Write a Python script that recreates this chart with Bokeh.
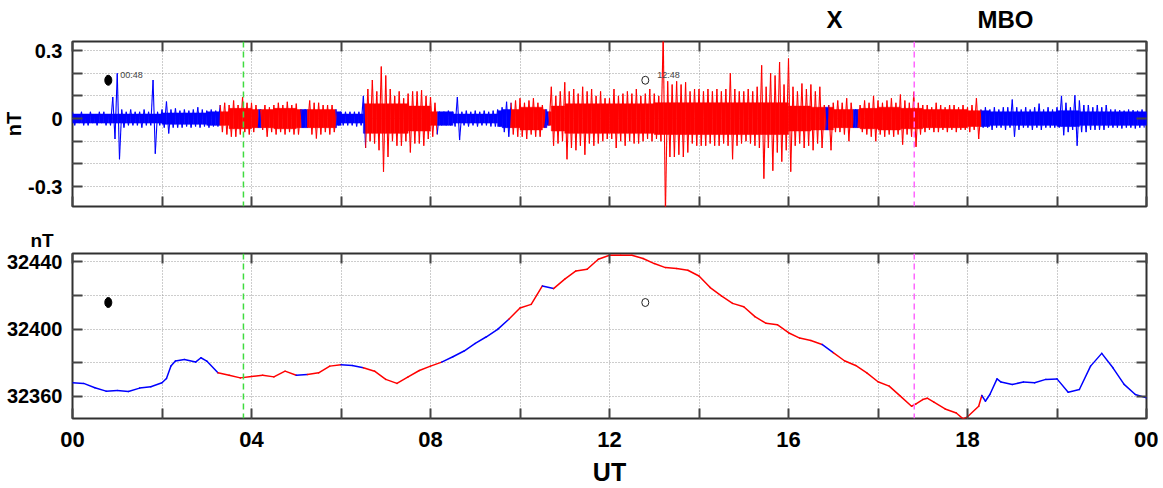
import numpy as np
from bokeh.plotting import figure
from bokeh.models import Range1d, FixedTicker, LinearAxis, Span, Label, ColumnDataSource
from bokeh.layouts import column
from bokeh.embed import file_html
from bokeh.resources import INLINE

# ---------------- data ----------------
# x axis (UT hours) labelled ticks, as printed on the original
xtick_pos = [0, 4, 8, 12, 16, 20, 24]
xtick_labels = ["00", "04", "08", "12", "16", "18", "00"]
xtick_minor = [2, 6, 10, 14, 18, 22]

# classification of time intervals (hours) : blue = quiet, red = active
seg_edges = [0, 3.30, 4.16, 4.22, 5.12, 5.25, 5.88, 6.53, 8.16, 9.79, 10.57, 10.64,
             16.83, 16.90, 17.45, 17.56, 20.31, 24]
seg_kind = ["quiet", "active", "quiet", "active", "quiet", "active", "quiet", "active",
            "quiet", "active", "quiet", "active", "quiet", "active", "quiet", "active", "quiet"]

# filtered field: upper / lower excursion per 0.1 h bin, in 0.01 nT (one row per hour)
hf_hi = [
    [3, 2, 3, 2, 3, 2, 3, 3, 2, 9.5],
    [20, 4, 3, 4, 3, 3, 4, 3, 17, 3],
    [4, 7.5, 4, 4.5, 3.5, 4, 3.5, 4, 5, 4],
    [3.5, 4, 3.5, 6, 7, 6, 8, 6, 9.5, 7],
    [7, 6, 4, 6, 5, 6, 7, 6, 7.4, 6],
    [6.6, 4, 4, 8, 7, 7, 6, 6, 6, 3],
    [3, 3, 3, 3, 3, 10, 13, 17, 12, 23],
    [19, 13, 10, 12, 9, 11, 12, 12, 12.5, 10],
    [9.5, 7, 3, 3, 3.5, 3, 9.5, 3, 3.5, 3],
    [3.5, 3, 3.5, 3, 3.5, 4, 5, 7.4, 7, 8],
    [9, 7, 8, 9, 7, 6, 3, 14, 10, 12],
    [16, 12, 13, 11, 14, 12, 13, 10, 12, 9],
    [9, 13, 10, 11, 12, 11, 13, 10, 11, 13],
    [11, 10, 38, 16.5, 15, 16.5, 15, 16, 12, 13],
    [13, 12, 13, 12, 13, 12, 13, 20, 13, 12],
    [12, 13, 12, 14, 23.5, 14, 20, 19, 25, 15],
    [26.5, 14, 12, 15.5, 13, 15, 12, 14, 6, 6],
    [7, 8, 7, 9, 7, 4, 6, 8, 7, 10],
    [8, 7, 8, 9, 7, 10.6, 8, 7, 11.8, 7],
    [6, 6, 5, 7, 6, 5, 6, 6, 5, 6],
    [5, 6, 9, 4, 5, 4, 5, 4, 5, 5],
    [8.4, 5, 4, 5, 4, 5, 6.6, 4, 5, 4],
    [5, 10, 7, 5, 10.3, 8, 6, 6, 5, 6],
    [5, 6, 4, 4, 3.7, 3.5, 4, 3.7, 3.5, 4],
]
hf_lo = [
    [-3, -2, -3, -3, -2, -3, -2, -3, -3, -9],
    [-18, -4, -3, -3, -3, -4, -3, -3, -15.5, -3],
    [-4, -6.6, -4, -4, -4, -3.5, -4, -3.5, -4, -3.5],
    [-4, -3.5, -3.5, -6, -7, -8, -8, -7, -6, -7],
    [-6, -4, -5, -8, -6, -7, -6, -7, -6, -7],
    [-7, -4, -4, -7, -8.8, -7, -6, -7, -6, -3],
    [-3, -3, -3, -3.5, -3, -13, -10, -11, -14, -23.5],
    [-17, -10, -12, -12, -10, -15, -11, -11, -12, -9],
    [-8, -7, -3, -3, -3, -3.5, -9.5, -3, -3.5, -3],
    [-3.5, -3, -3, -3.5, -3.5, -3.5, -6, -8, -7, -8],
    [-8, -9, -7, -8, -8, -4, -3, -12, -11, -10],
    [-18, -13, -14, -12, -16, -11, -12, -11, -10, -9],
    [-9, -13, -10, -12, -10, -11, -11, -10, -9, -10],
    [-9, -10, -42, -17, -17, -16, -17, -15, -11, -12],
    [-12, -12, -11, -12, -12, -11, -12, -18, -12, -11],
    [-10, -11, -12, -13, -26.5, -13, -23, -15, -19, -14],
    [-23.5, -12, -11, -13, -12, -14, -11, -13, -5, -14],
    [-6, -6, -7, -10, -4, -4, -6, -7, -8, -10],
    [-7, -8, -7, -8, -7, -11.5, -7, -8, -12.5, -7],
    [-6, -5, -6, -6, -5, -6, -5, -6, -5, -5],
    [-6, -5, -9, -4, -4, -5, -4, -4, -5, -4],
    [-8, -5, -4, -4, -5, -4, -5, -4, -4, -4],
    [-4, -7.4, -6, -5, -12, -6, -6, -5, -5, -5],
    [-5, -4, -4, -4, -4.4, -4, -4, -4.4, -4, -4],
]
# dense (solid-looking) core half-width of the filtered field per half hour, 0.01 nT
hf_core = [2, 2, 2, 2, 2.5, 2.5, 3, 4.5, 4, 4.5, 4, 4, 2, 6.5, 6.5, 5.5, 3, 2, 2, 4, 5, 5.5,
           6.5, 6.5, 6.5, 6.5, 7, 7, 7, 7, 7, 7, 5.5, 5, 4, 4.5, 5, 4.5, 4, 4, 3.5, 3, 3, 3,
           3.5, 3, 3, 3]

# total field (nT)
mf_t = [0, 0.25, 0.5, 0.75, 1.0, 1.25, 1.5, 1.75, 2.0, 2.1, 2.2, 2.3, 2.5, 2.75, 2.87, 3.0,
        3.25, 3.5, 3.75, 4.0, 4.25, 4.5, 4.75, 5.0, 5.25, 5.5, 5.75, 6.0, 6.25, 6.5, 6.75,
        7.0, 7.25, 7.5, 7.75, 8.0, 8.25, 8.5, 8.75, 9.0, 9.25, 9.5, 9.75, 10.0, 10.25,
        10.5, 10.75, 11.0, 11.25, 11.5, 11.75, 12.0, 12.25, 12.5, 12.75, 13.0, 13.25,
        13.5, 13.75, 14.0, 14.25, 14.5, 14.75, 15.0, 15.25, 15.5, 15.75, 16.0, 16.25,
        16.5, 16.75, 17.0, 17.25, 17.5, 17.75, 18.0, 18.25, 18.5, 18.75, 18.85, 19.0,
        19.1, 19.25, 19.5, 19.75, 19.9, 20.0, 20.25, 20.32, 20.4, 20.5, 20.66, 20.75,
        21.0, 21.25, 21.5, 21.75, 22.0, 22.25, 22.5, 22.75, 23.0, 23.25, 23.5, 23.75, 24.0]
mf_v = [32368.0, 32367.6, 32365.0, 32363.0, 32363.4, 32362.8, 32364.8, 32365.6, 32368.0,
        32370.5, 32378.0, 32381.0, 32381.9, 32380.3, 32382.9, 32380.9,
        32373.9, 32372.5, 32370.9, 32371.7, 32372.5, 32371.5, 32374.9, 32372.5, 32372.9,
        32373.9, 32377.9, 32378.7, 32378.3, 32376.9, 32374.9,
        32370.0, 32367.6, 32371.5, 32375.3, 32377.9, 32380.3, 32383.5, 32386.9, 32391.4,
        32395.4, 32399.8, 32405.8, 32412.5, 32414.7,
        32425.7, 32424.1, 32429.7, 32434.6, 32435.6, 32441.6, 32444.0, 32444.0, 32444.0,
        32442.0, 32439.0, 32436.6,
        32436.0, 32435.0, 32431.6, 32424.7, 32419.7, 32415.3, 32413.3, 32407.4, 32403.4,
        32402.6, 32397.8, 32394.6,
        32393.2, 32390.8, 32385.9, 32381.1, 32378.3, 32373.9, 32368.6, 32366.0, 32360.0,
        32354.0, 32355.4, 32358.0,
        32358.8, 32356.4, 32352.4, 32350.0, 32346.5, 32347.7, 32354.0, 32360.4, 32357.0,
        32361.0, 32370.3, 32368.4,
        32367.0, 32368.4, 32368.0, 32370.0, 32370.3, 32362.4, 32364.0, 32377.9, 32385.5,
        32376.9, 32367.0, 32361.0, 32359.0]

# event markers
mark_t = [0.8, 12.8]
mark_txt = ["00:48", "12:48"]
mark_filled = [True, False]
mark_top_v = [0.169, 0.169]
mark_bot_v = [32415.8, 32415.8]

# reference times (hours)
green_t = 3.82
magenta_t = 18.81
region_names = ["X", "MBO"]
region_t = [17.03, 20.85]

# ---------------- styling ----------------
KIND_COLOR = {"quiet": "#0000ff", "active": "#ff0000"}
FONT = "Liberation Sans"
GRID_COLOR = "#9a9a9a"
BORDER_L, BORDER_R = 72, 12


def kind_at(t):
    i = int(np.searchsorted(seg_edges, t, side="right")) - 1
    i = min(max(i, 0), len(seg_kind) - 1)
    return seg_kind[i]


def ax_common(ax):
    ax.axis_line_color = None
    ax.major_tick_in = 10
    ax.major_tick_out = 0
    ax.minor_tick_in = 10
    ax.minor_tick_out = 0
    ax.major_tick_line_color = "#444444"
    ax.minor_tick_line_color = "#444444"
    ax.major_tick_line_width = 2
    ax.minor_tick_line_width = 2
    ax.major_label_text_font = FONT
    ax.major_label_text_font_style = "bold"
    ax.major_label_text_color = "black"


def style_fig(p, yticks, yminor, show_x_labels, top_labels):
    """Returns (bottom x axis, left y axis)."""
    p.outline_line_color = "#303030"
    p.outline_line_width = 2
    p.background_fill_color = "white"
    p.border_fill_color = "white"
    for g in (p.xgrid, p.ygrid):
        g.grid_line_color = GRID_COLOR
        g.grid_line_dash = "1 2"
        g.grid_line_width = 1
        g.minor_grid_line_color = GRID_COLOR
        g.minor_grid_line_dash = "1 2"
        g.minor_grid_line_width = 1
    xt = FixedTicker(ticks=xtick_pos, minor_ticks=xtick_minor)
    yt = FixedTicker(ticks=yticks, minor_ticks=yminor)
    p.xgrid.ticker = xt
    p.ygrid.ticker = yt

    xa = p.below[0]
    xa.ticker = xt
    ax_common(xa)
    if show_x_labels:
        xa.major_label_overrides = {k: v for k, v in zip(xtick_pos, xtick_labels)}
        xa.major_label_text_font_size = "22px"
        xa.major_label_standoff = 13
    else:
        xa.major_label_overrides = {k: "" for k in xtick_pos}
        xa.major_label_text_font_size = "1px"
        xa.major_label_standoff = 0

    ya = p.left[0]
    ya.ticker = yt
    ax_common(ya)
    ya.major_label_text_font_size = "20px"
    ya.major_label_standoff = 10

    if top_labels is None:
        top = LinearAxis(ticker=xt)
        ax_common(top)
        top.major_label_overrides = {k: "" for k in xtick_pos}
        top.major_label_text_font_size = "1px"
        top.major_label_standoff = 0
    else:
        names, pos = top_labels
        top = LinearAxis(ticker=FixedTicker(ticks=pos, minor_ticks=xtick_pos + xtick_minor))
        ax_common(top)
        top.major_tick_in = 0
        top.major_label_overrides = {k: v for k, v in zip(pos, names)}
        top.major_label_text_font_size = "24px"
        top.major_label_standoff = 9
    p.add_layout(top, "above")

    right = LinearAxis(ticker=yt)
    ax_common(right)
    right.major_label_text_font_size = "1px"
    right.major_label_text_alpha = 0
    right.major_label_standoff = 0
    p.add_layout(right, "right")
    return xa, ya


# ---------------- top panel ----------------
hi = np.array(hf_hi, dtype=float).ravel() * 0.01
lo = np.array(hf_lo, dtype=float).ravel() * 0.01
nb = hi.size
tb = np.arange(nb) * 0.1
core_half = np.array(hf_core, dtype=float) * 0.01
core = np.minimum(np.minimum(core_half[(np.arange(nb) // 5)], hi), -lo)

# solid core as quads, split at classification edges
ql, qr, qt, qb, qc = [], [], [], [], []
for i in range(nb):
    a, b = tb[i], tb[i] + 0.1
    cuts = [a] + [e for e in seg_edges if a < e < b] + [b]
    for c0, c1 in zip(cuts[:-1], cuts[1:]):
        ql.append(c0); qr.append(c1); qt.append(core[i]); qb.append(-core[i])
        qc.append(KIND_COLOR[kind_at(0.5 * (c0 + c1))])

zt = np.column_stack([tb, tb + 0.05]).ravel()
zv = np.column_stack([hi, lo]).ravel()
mid = 0.5 * (zt[:-1] + zt[1:])
src1 = ColumnDataSource(dict(x0=zt[:-1], y0=zv[:-1], x1=zt[1:], y1=zv[1:],
                             c=[KIND_COLOR[kind_at(m)] for m in mid]))

p1 = figure(frame_width=1074, frame_height=165,
            x_range=Range1d(0, 24), y_range=Range1d(-0.388, 0.34),
            output_backend="svg", toolbar_location=None,
            min_border_left=BORDER_L, min_border_right=BORDER_R,
            min_border_top=41, min_border_bottom=10)
xa1, ya1 = style_fig(p1, [-0.3, 0, 0.3], [-0.2, -0.1, 0.1, 0.2], False,
                     (region_names, region_t))
ya1.major_label_overrides = {-0.3: "-0.3", 0: "0", 0.3: "0.3"}
ya1.axis_label = "nT"
ya1.axis_label_text_font = FONT
ya1.axis_label_text_font_size = "20px"
ya1.axis_label_text_font_style = "bold"
ya1.axis_label_text_color = "black"
ya1.axis_label_standoff = 0
p1.quad(left=ql, right=qr, top=qt, bottom=qb, fill_color=qc, line_color=qc, line_width=0.5)
p1.segment("x0", "y0", "x1", "y1", source=src1, line_color="c", line_width=1.1)

# ---------------- bottom panel ----------------
mt = np.array(mf_t)
mv = np.array(mf_v)
mid2 = 0.5 * (mt[:-1] + mt[1:])
src2 = ColumnDataSource(dict(x0=mt[:-1], y0=mv[:-1], x1=mt[1:], y1=mv[1:],
                             c=[KIND_COLOR[kind_at(m)] for m in mid2]))
p2 = figure(frame_width=1074, frame_height=165,
            x_range=p1.x_range, y_range=Range1d(32346.7, 32445),
            output_backend="svg", toolbar_location=None,
            min_border_left=BORDER_L, min_border_right=BORDER_R,
            min_border_top=37, min_border_bottom=69)
xa2, ya2 = style_fig(p2, [32360, 32400, 32440], [32380, 32420], True, None)
xa2.axis_label = "UT"
xa2.axis_label_text_font = FONT
xa2.axis_label_text_font_size = "25px"
xa2.axis_label_text_font_style = "bold"
xa2.axis_label_text_color = "black"
xa2.axis_label_standoff = 8
p2.title.text = "nT"
p2.title.align = "left"
p2.title.offset = -42
p2.title.standoff = 6
p2.title.text_font = FONT
p2.title.text_font_size = "19px"
p2.title.text_font_style = "bold"
p2.title.text_color = "black"
p2.segment("x0", "y0", "x1", "y1", source=src2, line_color="c", line_width=1.5,
           line_cap="round")

# markers and annotations
for p, mv_ in ((p1, mark_top_v), (p2, mark_bot_v)):
    for t, v, filled in zip(mark_t, mv_, mark_filled):
        if filled:
            p.ellipse(x=[t], y=[v], width=7, height=10, width_units="screen",
                      height_units="screen", fill_color="black", line_color="black")
        else:
            p.ellipse(x=[t], y=[v], width=7, height=8, width_units="screen",
                      height_units="screen", fill_color=None, line_color="#222222",
                      line_width=1)
    p.add_layout(Span(location=green_t, dimension="height", line_color="#3fdc3f",
                      line_dash="6 4", line_width=1.5))
    p.add_layout(Span(location=magenta_t, dimension="height", line_color="#ff66ff",
                      line_dash="6 4", line_width=1.5))

for t, v, s in zip(mark_t, mark_top_v, mark_txt):
    p1.add_layout(Label(x=t, y=v, text=s, x_offset=12, y_offset=5, text_font=FONT,
                        text_font_size="9px", text_color="#444444",
                        text_baseline="middle", text_align="left"))

layout = column(p1, p2, spacing=0)
open("out.html", "w").write(file_html(layout, INLINE))
